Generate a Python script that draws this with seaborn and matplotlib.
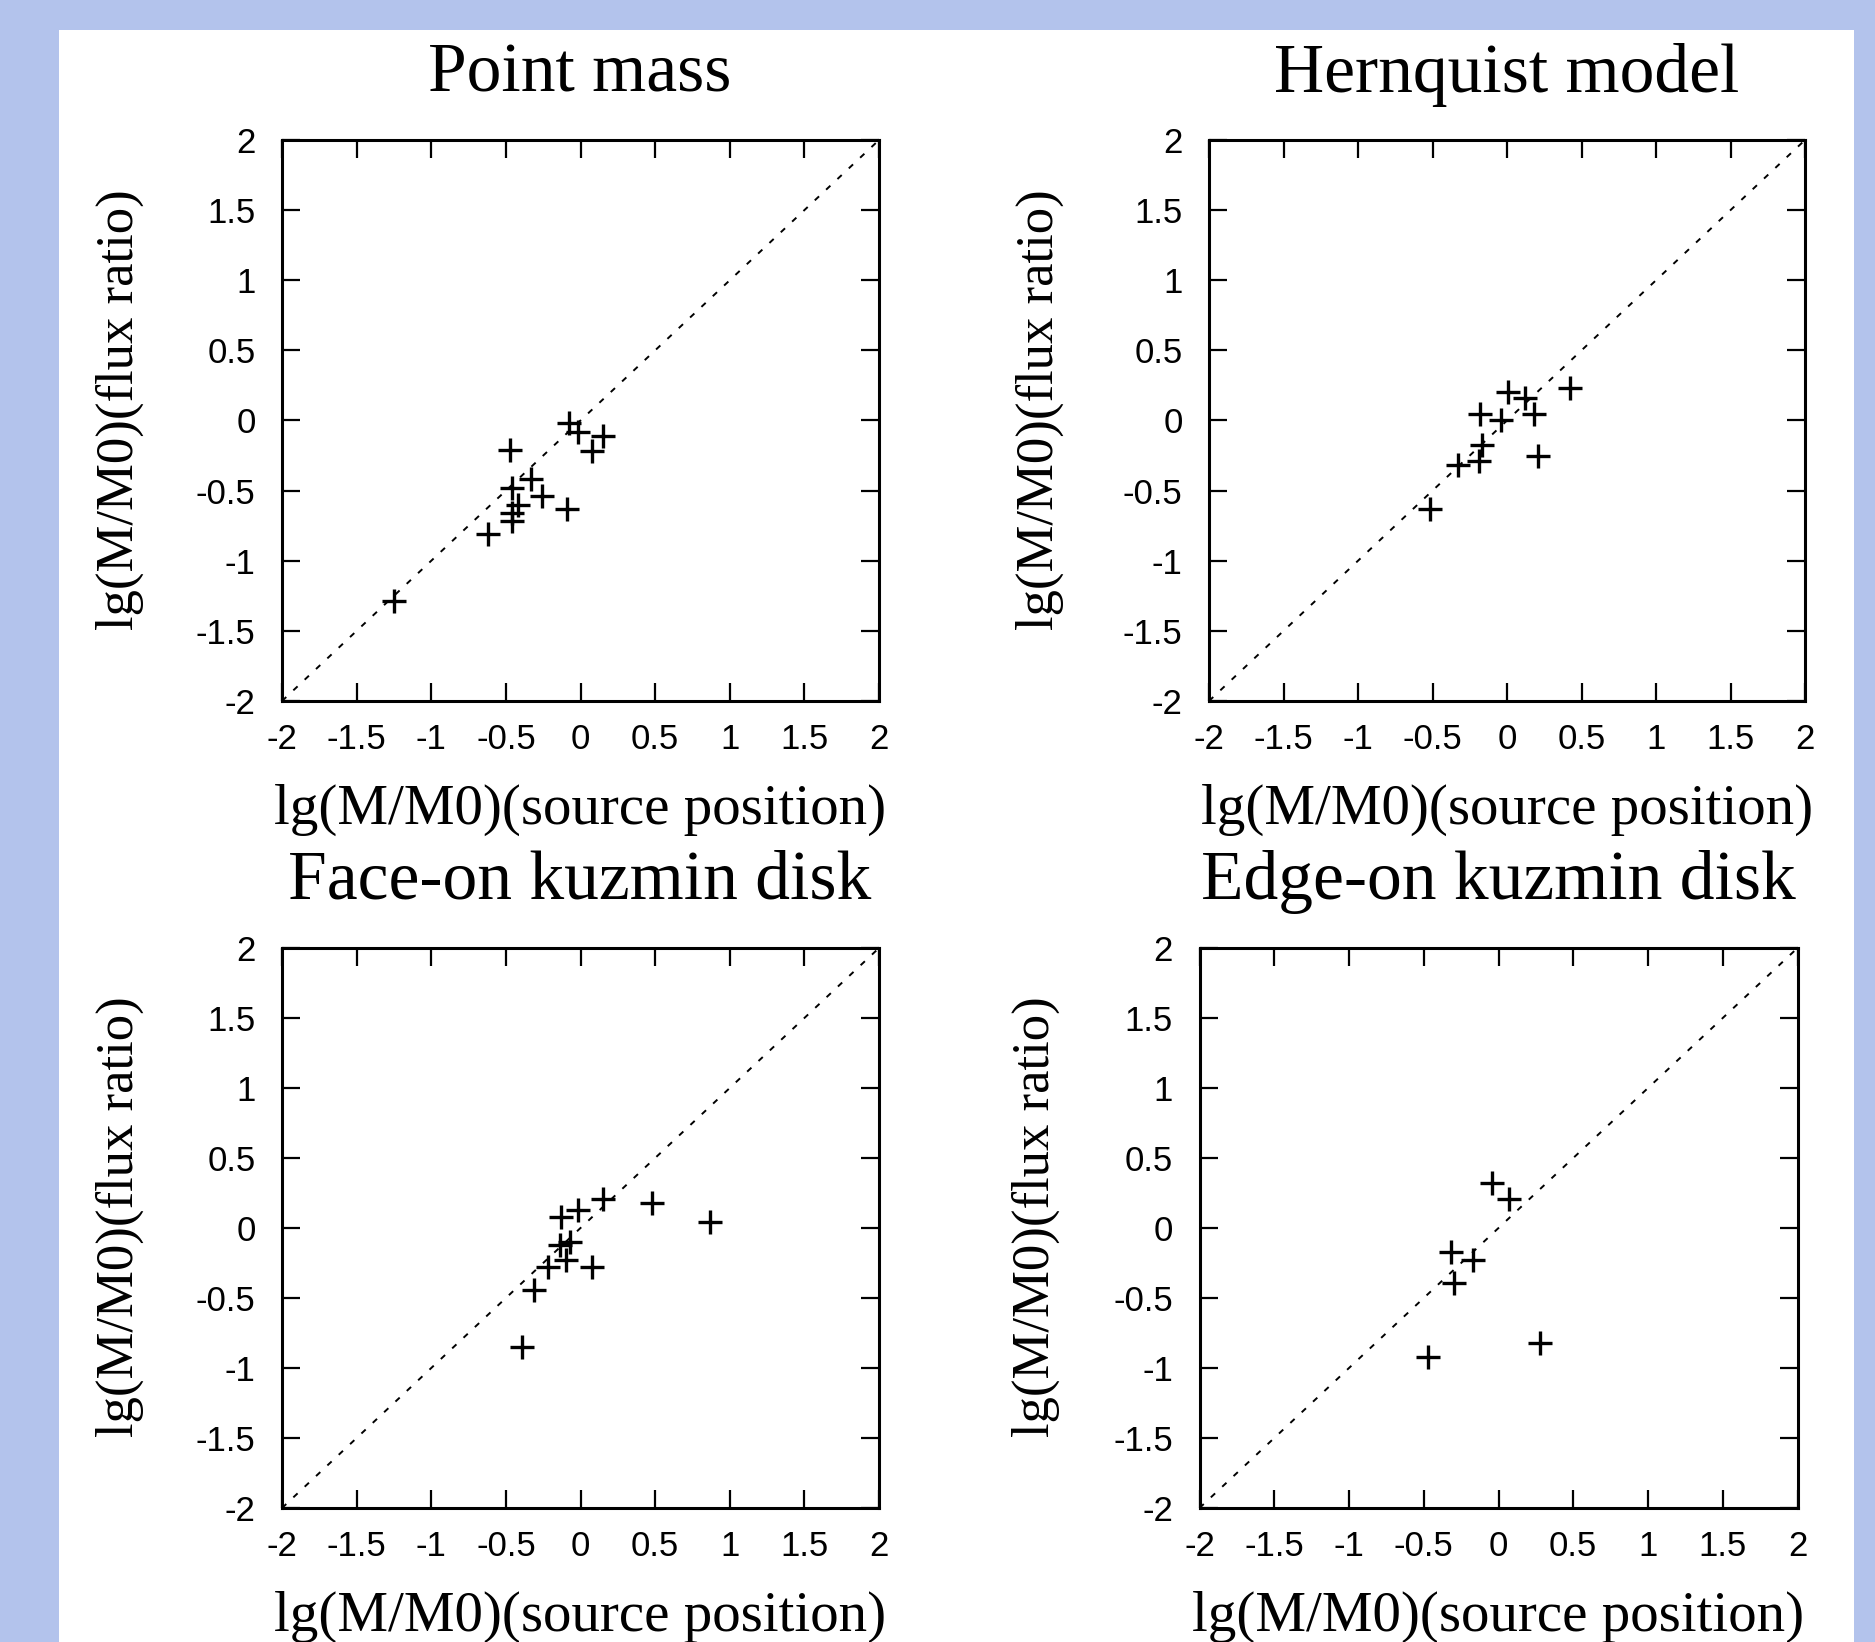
import matplotlib
matplotlib.use("Agg")
import matplotlib.pyplot as plt
import seaborn as sns
import pandas as pd
from matplotlib.patches import Rectangle

# ---- data ----
titles = ["Point mass", "Hernquist model", "Face-on kuzmin disk", "Edge-on kuzmin disk"]
xlabel = "lg(M/M0)(source position)"
ylabel = "lg(M/M0)(flux ratio)"
ticks = [-2, -1.5, -1, -0.5, 0, 0.5, 1, 1.5, 2]
tick_labels = ["-2", "-1.5", "-1", "-0.5", "0", "0.5", "1", "1.5", "2"]

pm_x = [-1.25, -0.47, -0.08, -0.015, 0.15, 0.08, -0.33, -0.26, -0.46, -0.42, -0.46, -0.46, -0.09, -0.62]
pm_y = [-1.29, -0.21, -0.02, -0.08, -0.11, -0.22, -0.42, -0.54, -0.48, -0.60, -0.66, -0.72, -0.63, -0.81]

hq_x = [0.01, 0.12, 0.42, -0.18, -0.04, 0.18, -0.17, -0.19, -0.33, 0.21, -0.52]
hq_y = [0.205, 0.16, 0.23, 0.046, 0.0, 0.046, -0.175, -0.29, -0.32, -0.25, -0.63]

fo_x = [0.15, -0.015, -0.13, 0.48, 0.87, -0.14, -0.07, -0.10, -0.22, 0.08, -0.31, -0.39]
fo_y = [0.21, 0.13, 0.08, 0.18, 0.04, -0.12, -0.10, -0.23, -0.28, -0.28, -0.44, -0.85]

eo_x = [-0.045, 0.07, -0.32, -0.17, -0.30, -0.47, 0.28]
eo_y = [0.325, 0.21, -0.17, -0.23, -0.39, -0.92, -0.82]

series = [(pm_x, pm_y), (hq_x, hq_y), (fo_x, fo_y), (eo_x, eo_y)]

# ---- layout ----
W, H = 1875, 1642
fig = plt.figure(figsize=(W / 100, H / 100), dpi=100, facecolor="#b3c3ec")
fig.patches.append(Rectangle((59 / W, 0), (1854 - 59) / W, 1 - 30 / H,
                             transform=fig.transFigure, facecolor="white",
                             edgecolor="none", zorder=-10))

# axes boxes in pixel coords: left, right, top, bottom
boxes = [(282, 879, 140, 701), (1209, 1805, 140, 701),
         (282, 879, 948, 1508), (1199.5, 1797.5, 948, 1508)]
title_pos = [(580, 75), (1507, 75), (580, 882), (1498, 882)]
ylab_x = [120, 1040, 120, 1036]

serif = "Liberation Serif"
sans = "Liberation Sans"

for i, ((l, r, t, b), (xs, ys)) in enumerate(zip(boxes, series)):
    ax = fig.add_axes([l / W, 1 - b / H, (r - l) / W, (b - t) / H])
    ax.set_facecolor("white")
    ax.axline((0, 0), slope=1, color="black", lw=1.4, dashes=(3, 5), zorder=1)
    df = pd.DataFrame({"x": xs, "y": ys})
    sns.scatterplot(data=df, x="x", y="y", marker="+", s=320, color="black",
                    linewidth=2.4, ax=ax, zorder=3)
    ax.set_xlim(-2, 2)
    ax.set_ylim(-2, 2)
    ax.set_xticks(ticks)
    ax.set_yticks(ticks)
    ax.set_xticklabels(tick_labels, fontfamily=sans, fontsize=25)
    ax.set_yticklabels(tick_labels, fontfamily=sans, fontsize=25)
    ax.tick_params(direction="in", length=13, width=1.6, top=True, right=True,
                   color="black")
    ax.tick_params(axis="x", pad=16)
    ax.tick_params(axis="y", pad=19)
    for sp in ax.spines.values():
        sp.set_linewidth(2.2)
        sp.set_color("black")
    ax.set_xlabel(xlabel, fontfamily=serif, fontsize=41)
    ax.set_ylabel(ylabel, fontfamily=serif, fontsize=38)
    ax.xaxis.set_label_coords(0.5, -109 / (b - t), transform=ax.transAxes)
    ax.xaxis.label.set_va("center")
    ax.yaxis.set_label_coords((ylab_x[i] - l) / (r - l), 0.52, transform=ax.transAxes)
    ax.yaxis.label.set_va("center")
    tx, ty = title_pos[i]
    fig.text(tx / W, 1 - ty / H, titles[i], ha="center", va="center",
             fontfamily=serif, fontsize=50)

fig.savefig("out.png", dpi=100, facecolor=fig.get_facecolor())
